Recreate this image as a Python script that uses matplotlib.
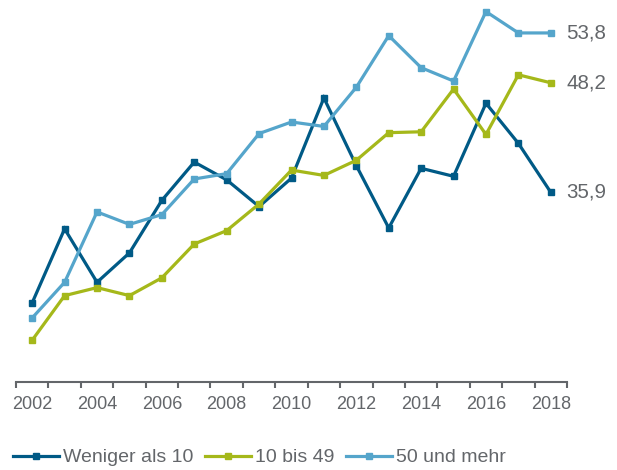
import matplotlib
matplotlib.use("Agg")
import matplotlib.pyplot as plt
import numpy as np

years = list(range(2002, 2019))
weniger_10 = [23.5, 31.8, 25.8, 29.1, 35.0, 39.3, 37.3, 34.3, 37.5, 46.5, 38.9, 31.9, 38.6, 37.7, 45.9, 41.4, 35.9]
bis_49 = [19.3, 24.3, 25.2, 24.3, 26.3, 30.1, 31.6, 34.6, 38.4, 37.8, 39.5, 42.6, 42.7, 47.5, 42.4, 49.1, 48.2]
und_mehr_50 = [21.8, 25.8, 33.7, 32.3, 33.4, 37.4, 38.0, 42.5, 43.8, 43.3, 47.7, 53.5, 49.9, 48.4, 56.2, 53.8, 53.8]
series_names = ["Weniger als 10", "10 bis 49", "50 und mehr"]
end_labels = ["35,9", "48,2", "53,8"]
tick_years = [str(y) for y in range(2002, 2019, 2)]

colors = ["#005a86", "#a5b81a", "#55a5cb"]
grey = "#63666a"

plt.rcParams['font.family'] = ['Liberation Sans', 'DejaVu Sans']

W, H = 617, 470
fig = plt.figure(figsize=(W / 100, H / 100), dpi=100)
ymin, ymax = 14.6, 57.5
ax = fig.add_axes([16 / W, 88 / H, 551 / W, 382 / H])
x = np.arange(len(years))
handles = []
for vals, c, name, lab in zip([weniger_10, bis_49, und_mehr_50], colors, series_names, end_labels):
    h, = ax.plot(x, vals, color=c, lw=2.3, marker='s', ms=4, mec=c, mfc=c,
                 label=name, clip_on=False, solid_joinstyle='miter')
    handles.append(h)
    ax.annotate(lab, (x[-1], vals[-1]), xytext=(11, 0), textcoords='offset points',
                va='center', ha='left', fontsize=14.8, color=grey, annotation_clip=False)

ax.set_xlim(-0.5, len(years) - 0.5)
ax.set_ylim(ymin, ymax)
for s in ['top', 'right', 'left']:
    ax.spines[s].set_visible(False)
ax.spines['bottom'].set_color(grey)
ax.spines['bottom'].set_linewidth(1.5)
ax.set_yticks([])
ax.set_xticks(np.arange(-0.5, len(years), 1.0), minor=False)
ax.set_xticklabels([])
ax.tick_params(axis='x', which='major', direction='out', length=4, width=1.5, color=grey)
ax.set_xticks(np.arange(0, len(years), 2), minor=True)
ax.set_xticklabels(tick_years, minor=True)
ax.tick_params(axis='x', which='minor', length=0, pad=10, labelsize=13, labelcolor=grey)

fig.legend(handles=handles, loc='center left', bbox_to_anchor=(13 / W, 12.5 / H),
           ncol=3, frameon=False, fontsize=14, handlelength=2.37, handletextpad=0.2,
           columnspacing=0.6, borderpad=0, borderaxespad=0, numpoints=1,
           labelcolor=grey)

fig.savefig("out.png", dpi=100)
